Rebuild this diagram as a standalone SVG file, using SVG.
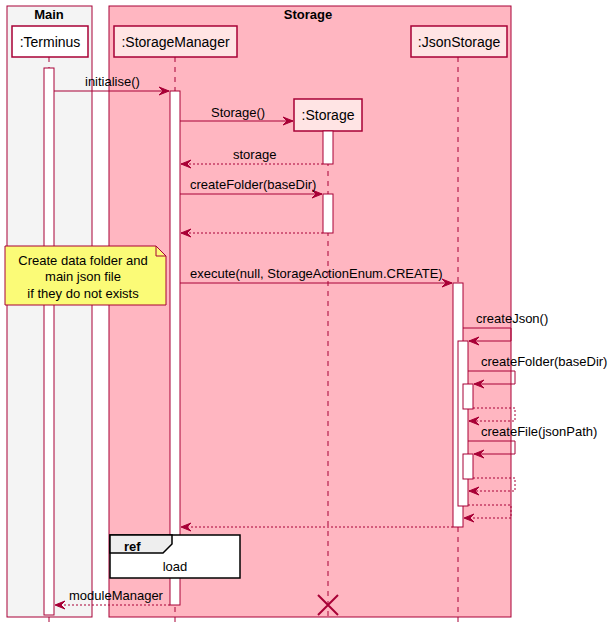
<svg xmlns="http://www.w3.org/2000/svg" width="610" height="629" viewBox="0 0 610 629">
<style>
text{font-family:"Liberation Sans",Arial,sans-serif;font-size:13px;fill:#000}
.t{font-weight:bold}
.p{font-size:14px}
.life{stroke:#A80036;stroke-width:1;stroke-dasharray:5,5;fill:none}
.act{fill:#fff;stroke:#A80036;stroke-width:1}
.part{stroke:#A80036;stroke-width:1.5}
.msg{stroke:#A80036;stroke-width:1;fill:none}
.ret{stroke:#A80036;stroke-width:1;fill:none;stroke-dasharray:2,2}
</style>
<defs>
<marker id="arr" viewBox="0 0 12 10" refX="11" refY="5" markerWidth="12" markerHeight="10" markerUnits="userSpaceOnUse" orient="auto">
<polygon points="1,1 11,5 1,9 5,5" fill="#A80036" stroke="#A80036" stroke-width="1"/>
</marker>
</defs>
<g id="box-main">
<rect x="7" y="6" width="85" height="611" fill="#F4F4F4" stroke="#A80036" stroke-width="1"/>
<text x="49" y="19" text-anchor="middle" class="t">Main</text>
</g>
<g id="box-storage">
<rect x="109" y="6" width="402" height="611" fill="#FFB6C1" stroke="#A80036" stroke-width="1"/>
<text x="308" y="19" text-anchor="middle" class="t">Storage</text>
</g>
<g id="lifelines">
<line x1="49" y1="57" x2="49" y2="625" class="life"/>
<line x1="175" y1="57" x2="175" y2="625" class="life"/>
<line x1="328" y1="131" x2="328" y2="617" class="life"/>
<line x1="458" y1="57" x2="458" y2="625" class="life"/>
</g>
<g id="terminus">
<rect x="12" y="26" width="76" height="31" fill="#fff" class="part"/>
<text x="50" y="47" text-anchor="middle" class="p">:Terminus</text>
<rect x="44" y="68" width="10" height="547" class="act"/>
</g>
<g id="storagemanager">
<rect x="114" y="26" width="123" height="31" fill="#FFE4E4" class="part"/>
<text x="175.5" y="47" text-anchor="middle" class="p">:StorageManager</text>
<rect x="170" y="91" width="10" height="514" class="act"/>
</g>
<g id="storage">
<rect x="294" y="99" width="68" height="32" fill="#FFE4E4" class="part"/>
<text x="328" y="120" text-anchor="middle" class="p">:Storage</text>
<rect x="323" y="131" width="10" height="33" class="act"/>
<rect x="323" y="194" width="10" height="39" class="act"/>
<path d="M318,595 L338,615 M338,595 L318,615" stroke="#A80036" stroke-width="2"/>
</g>
<g id="jsonstorage">
<rect x="411" y="26" width="96" height="31" fill="#FFE4E4" class="part"/>
<text x="459" y="47" text-anchor="middle" class="p">:JsonStorage</text>
<rect x="453" y="283" width="10" height="244" class="act"/>
<rect x="458" y="341" width="10" height="165" class="act"/>
<rect x="463" y="384" width="10" height="25" class="act"/>
<rect x="463" y="454" width="10" height="25" class="act"/>
</g>
<g id="note">
<path d="M5,246 L156,246 L166,256 L166,305 L5,305 Z" fill="#FBFB77" stroke="#A80036" stroke-width="1"/>
<path d="M156,246 L156,256 L166,256" fill="none" stroke="#A80036" stroke-width="1"/>
<text x="83" y="265" text-anchor="middle">Create data folder and</text>
<text x="83" y="281" text-anchor="middle">main json file</text>
<text x="83" y="298" text-anchor="middle">if they do not exists</text>
</g>
<g id="ref">
<rect x="110" y="535" width="130" height="43" fill="#fff" stroke="#000" stroke-width="1.5"/>
<path d="M110,535 L172,535 L172,544 L163,553 L110,553 Z" fill="#EEEEEE" stroke="#000" stroke-width="1.5"/>
<text x="124" y="551" class="t">ref</text>
<text x="175" y="571" text-anchor="middle">load</text>
</g>
<g id="connectors">
<line x1="54" y1="91" x2="169" y2="91" class="msg" marker-end="url(#arr)"/>
<text x="85" y="86">initialise()</text>
<line x1="180" y1="121" x2="293" y2="121" class="msg" marker-end="url(#arr)"/>
<text x="211" y="117">Storage()</text>
<line x1="323" y1="164" x2="181" y2="164" class="ret" marker-end="url(#arr)"/>
<text x="233" y="159">storage</text>
<line x1="180" y1="194" x2="322" y2="194" class="msg" marker-end="url(#arr)"/>
<text x="190" y="189">createFolder(baseDir)</text>
<line x1="323" y1="233" x2="181" y2="233" class="ret" marker-end="url(#arr)"/>
<line x1="180" y1="283" x2="452" y2="283" class="msg" marker-end="url(#arr)"/>
<text x="190" y="278">execute(null, StorageActionEnum.CREATE)</text>
<polyline points="463,328 511,328 511,341 469,341" class="msg" marker-end="url(#arr)"/>
<text x="476" y="323">createJson()</text>
<polyline points="468,371 515,371 515,384 474,384" class="msg" marker-end="url(#arr)"/>
<text x="481" y="366">createFolder(baseDir)</text>
<polyline points="473,408 515,408 515,421 469,421" class="ret" marker-end="url(#arr)"/>
<polyline points="468,441 515,441 515,454 474,454" class="msg" marker-end="url(#arr)"/>
<text x="481" y="436">createFile(jsonPath)</text>
<polyline points="473,478 515,478 515,491 469,491" class="ret" marker-end="url(#arr)"/>
<polyline points="468,505 511,505 511,518 464,518" class="ret" marker-end="url(#arr)"/>
<line x1="453" y1="527" x2="181" y2="527" class="ret" marker-end="url(#arr)"/>
<line x1="170" y1="605" x2="55" y2="605" class="ret" marker-end="url(#arr)"/>
<text x="69" y="600">moduleManager</text>
</g>
</svg>
